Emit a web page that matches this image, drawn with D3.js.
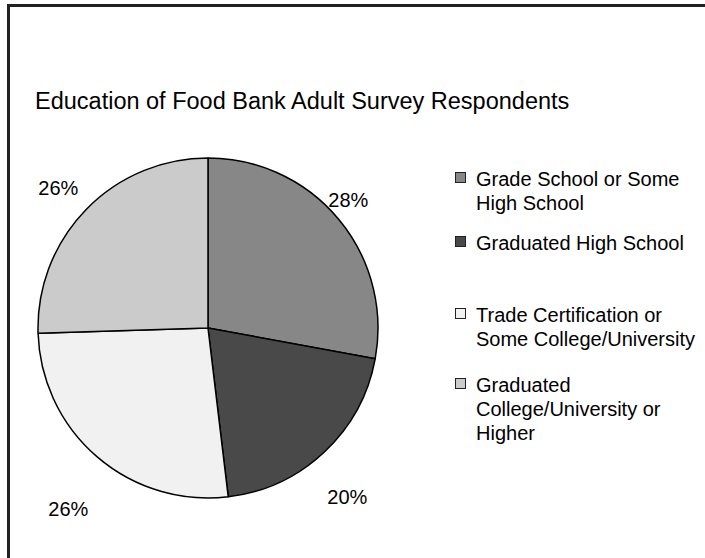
<!DOCTYPE html>
<html>
<head>
<meta charset="utf-8">
<script src="https://cdn.jsdelivr.net/npm/d3@7"></script>
<style>
  html, body { margin: 0; padding: 0; background: #fff; }
  svg { display: block; }
  text { font-family: "Liberation Sans", Arial, sans-serif; fill: #000; }
</style>
</head>
<body>
<svg id="chart" width="705" height="558"></svg>
<script>
// ---- data ----
const title = "Education of Food Bank Adult Survey Respondents";
const categories = [
  "Grade School or Some High School",
  "Graduated High School",
  "Trade Certification or Some College/University",
  "Graduated College/University or Higher"
];
const legendLines = [
  ["Grade School or Some", "High School"],
  ["Graduated High School"],
  ["Trade Certification or", "Some College/University"],
  ["Graduated", "College/University or", "Higher"]
];
const values = [27.9, 20.2, 26.4, 25.5];
const percentLabels = ["28%", "20%", "26%", "26%"];
const colors = ["#878787", "#494949", "#f1f1f1", "#cbcbcb"];

// ---- layout ----
const W = 705, H = 558;
const cx = 208, cy = 328, R = 170;
const labelR = [190, 219, 229, 205];
const labelAngleShift = [-2.6, 3.7, -3.1, -1]; // degrees

const svg = d3.select("#chart");

// frame
svg.append("rect")
  .attr("x", 8.5).attr("y", 5.5)
  .attr("width", W + 10).attr("height", H + 10)
  .attr("fill", "none")
  .attr("stroke", "#222").attr("stroke-width", 3);

// title
svg.append("text")
  .attr("x", 35).attr("y", 109)
  .attr("font-size", 23.5)
  .text(title);

// pie
const pie = d3.pie().sort(null).value(d => d)(values);
const arc = d3.arc().innerRadius(0).outerRadius(R);
const g = svg.append("g").attr("transform", `translate(${cx},${cy})`);

g.selectAll("path.slice")
  .data(pie)
  .join("path")
  .attr("class", "slice")
  .attr("d", arc)
  .attr("fill", (d, i) => colors[i])
  .attr("stroke", "#000")
  .attr("stroke-width", 1.5)
  .attr("stroke-linejoin", "round");

// percent labels
g.selectAll("text.pct")
  .data(pie)
  .join("text")
  .attr("class", "pct")
  .attr("font-size", 20)
  .attr("text-anchor", "middle")
  .attr("dominant-baseline", "central")
  .attr("x", (d, i) => {
    const a = (d.startAngle + d.endAngle) / 2 + labelAngleShift[i] * Math.PI / 180;
    return labelR[i] * Math.sin(a);
  })
  .attr("y", (d, i) => {
    const a = (d.startAngle + d.endAngle) / 2 + labelAngleShift[i] * Math.PI / 180;
    return -labelR[i] * Math.cos(a);
  })
  .text((d, i) => percentLabels[i]);

// legend
const legendX = 455;
const legendTops = [186, 250, 322, 392]; // baselines of first lines
const lineH = 24;
const lg = svg.append("g");
categories.forEach((c, i) => {
  const item = lg.append("g");
  item.append("rect")
    .attr("x", legendX + 0.5).attr("y", legendTops[i] - 13.5)
    .attr("width", 10).attr("height", 10)
    .attr("fill", colors[i])
    .attr("stroke", "#222").attr("stroke-width", 1);
  const t = item.append("text")
    .attr("x", legendX + 21).attr("y", legendTops[i])
    .attr("font-size", 20);
  legendLines[i].forEach((ln, j) => {
    t.append("tspan").attr("x", legendX + 21).attr("dy", j === 0 ? 0 : lineH).text(ln);
  });
});
</script>
</body>
</html>
